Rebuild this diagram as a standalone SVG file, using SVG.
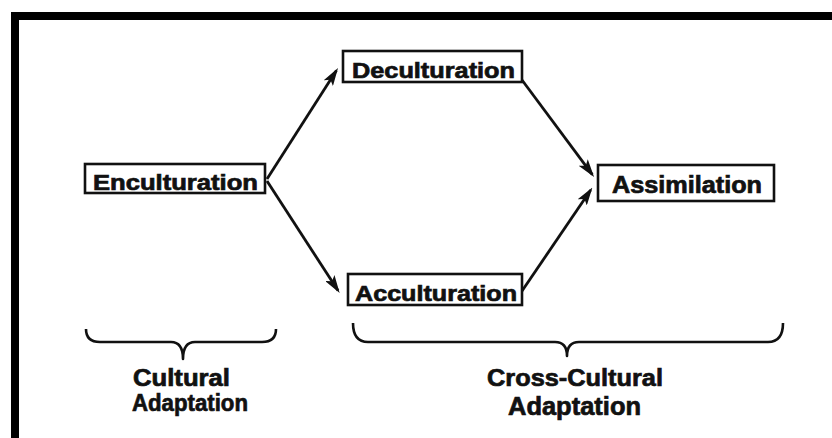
<svg xmlns="http://www.w3.org/2000/svg" width="832" height="438" viewBox="0 0 832 438">
<style>
.box{fill:#fff;stroke:#111;stroke-width:2.6}
.lbl{font-family:"Liberation Sans",Arial,sans-serif;font-weight:bold;fill:#111;stroke:#111;stroke-width:0.7}
.con{stroke:#111;stroke-width:2.8;fill:none}
.brace{stroke:#111;stroke-width:2.6;fill:none;stroke-linejoin:round}
</style>
<defs>
<marker id="ah" viewBox="0 0 18 11" refX="15" refY="5.5" markerWidth="18" markerHeight="11" markerUnits="userSpaceOnUse" orient="auto">
<path d="M0,0 L18,5.5 L0,11 L4,5.5 z" fill="#111"/>
</marker>
</defs>
<rect width="832" height="438" fill="#fff"/>
<g id="frame" fill="#000">
<rect x="11" y="12" width="821" height="8"/>
<rect x="11" y="12" width="8" height="426"/>
</g>
<g id="connectors">
<line class="con" x1="267" y1="179" x2="336.4" y2="70.5" marker-end="url(#ah)"/>
<line class="con" x1="267" y1="181" x2="338" y2="290.6" marker-end="url(#ah)"/>
<line class="con" x1="522" y1="80" x2="592.3" y2="174.6" marker-end="url(#ah)"/>
<line class="con" x1="522" y1="291" x2="590.7" y2="190" marker-end="url(#ah)"/>
</g>
<g id="enculturation">
<rect class="box" x="85" y="164" width="180" height="29"/>
<text class="lbl" x="93" y="189.5" font-size="22" textLength="165" lengthAdjust="spacingAndGlyphs">Enculturation</text>
</g>
<g id="deculturation">
<rect class="box" x="343" y="51" width="179" height="31"/>
<text class="lbl" x="352" y="78" font-size="22" textLength="163" lengthAdjust="spacingAndGlyphs">Deculturation</text>
</g>
<g id="acculturation">
<rect class="box" x="348" y="274" width="174" height="31"/>
<text class="lbl" x="355" y="301" font-size="22" textLength="162" lengthAdjust="spacingAndGlyphs">Acculturation</text>
</g>
<g id="assimilation">
<rect class="box" x="598" y="165" width="176" height="36"/>
<text class="lbl" x="612" y="193" font-size="23" textLength="150" lengthAdjust="spacingAndGlyphs">Assimilation</text>
</g>
<g id="cultural-adaptation">
<path class="brace" d="M86,329 Q86,342 100,342 L171,342 Q183,342 183,359 Q183,342 195,342 L262,342 Q276,342 276,329"/>
<text class="lbl" x="133" y="386" font-size="23" textLength="97" lengthAdjust="spacingAndGlyphs">Cultural</text>
<text class="lbl" x="132" y="411" font-size="24" textLength="116" lengthAdjust="spacingAndGlyphs">Adaptation</text>
</g>
<g id="cross-cultural-adaptation">
<path class="brace" d="M353,323 Q353,342 368,342 L555,342 Q567,342 567,356 Q567,342 579,342 L768,342 Q783,342 783,323"/>
<text class="lbl" x="487" y="386" font-size="24" textLength="176" lengthAdjust="spacingAndGlyphs">Cross-Cultural</text>
<text class="lbl" x="508" y="415" font-size="25" textLength="133" lengthAdjust="spacingAndGlyphs">Adaptation</text>
</g>
</svg>
